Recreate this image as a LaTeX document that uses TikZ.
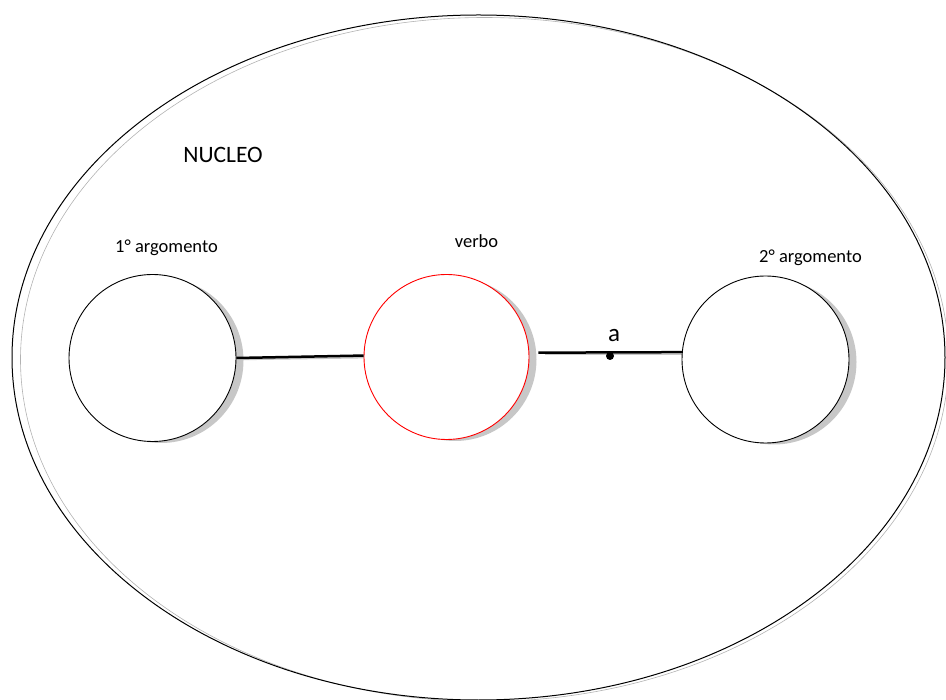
\documentclass[tikz,border=0pt]{standalone}
\usepackage{fontspec}
\setmainfont{Carlito}
\begin{document}
\begin{tikzpicture}[x=1pt,y=-1pt,
  argcircle/.style={circle,draw=black,line width=0.9pt,fill=white,minimum size=167pt,inner sep=0pt},
  shadowcircle/.style={circle,fill=black!22,minimum size=165pt,inner sep=0pt},
  link/.style={line width=2.5pt,black},
  linkshadow/.style={line width=1.5pt,black!22},
  lbl/.style={font=\fontsize{18.5}{20}\selectfont,anchor=base},
]
\useasboundingbox (0,0) rectangle (946,700);
% outer ellipse
\draw[black!30,line width=0.6pt] (484.5,359.5) ellipse [x radius=464pt, y radius=342pt];
\draw[black,line width=1pt] (478.5,357.5) ellipse [x radius=466.5pt, y radius=342.5pt];
% shadows
\node[shadowcircle] (s1) at (161,360.5) {};
\node[shadowcircle,minimum size=163pt] (s2) at (455,359.5) {};
\node[shadowcircle] (s3) at (774,362) {};
% shadow lines
\draw[linkshadow] (240,359.5) -- (375,357.5);
\draw[linkshadow] (545,354.5) -- (692,354.5);
% circles
\node[argcircle] (arg1) at (152.5,358) {};
\node[argcircle,draw=red,minimum size=165pt] (verb) at (446.5,357) {};
\node[argcircle] (arg2) at (765.5,359.5) {};
% connectors
\draw[link] (arg1.east) -- (verb.179);
\draw[link] ([xshift=9pt]verb.3) -- (arg2.175);
\node[circle,fill=black,minimum size=8pt,inner sep=0pt] (dot) at (610,356) {};
% labels
\node[font=\fontsize{23.5}{26}\selectfont,anchor=base] (nucleo) at (223,163) {NUCLEO};
\node[lbl] (l1) at (166.5,253) {1° argomento};
\node[lbl] (l2) at (476.5,247.5) {verbo};
\node[lbl] (l3) at (810.5,262.5) {2° argomento};
\node[font=\fontsize{25}{27}\selectfont,anchor=base] (a) at (614,342) {a};
\end{tikzpicture}
\end{document}
